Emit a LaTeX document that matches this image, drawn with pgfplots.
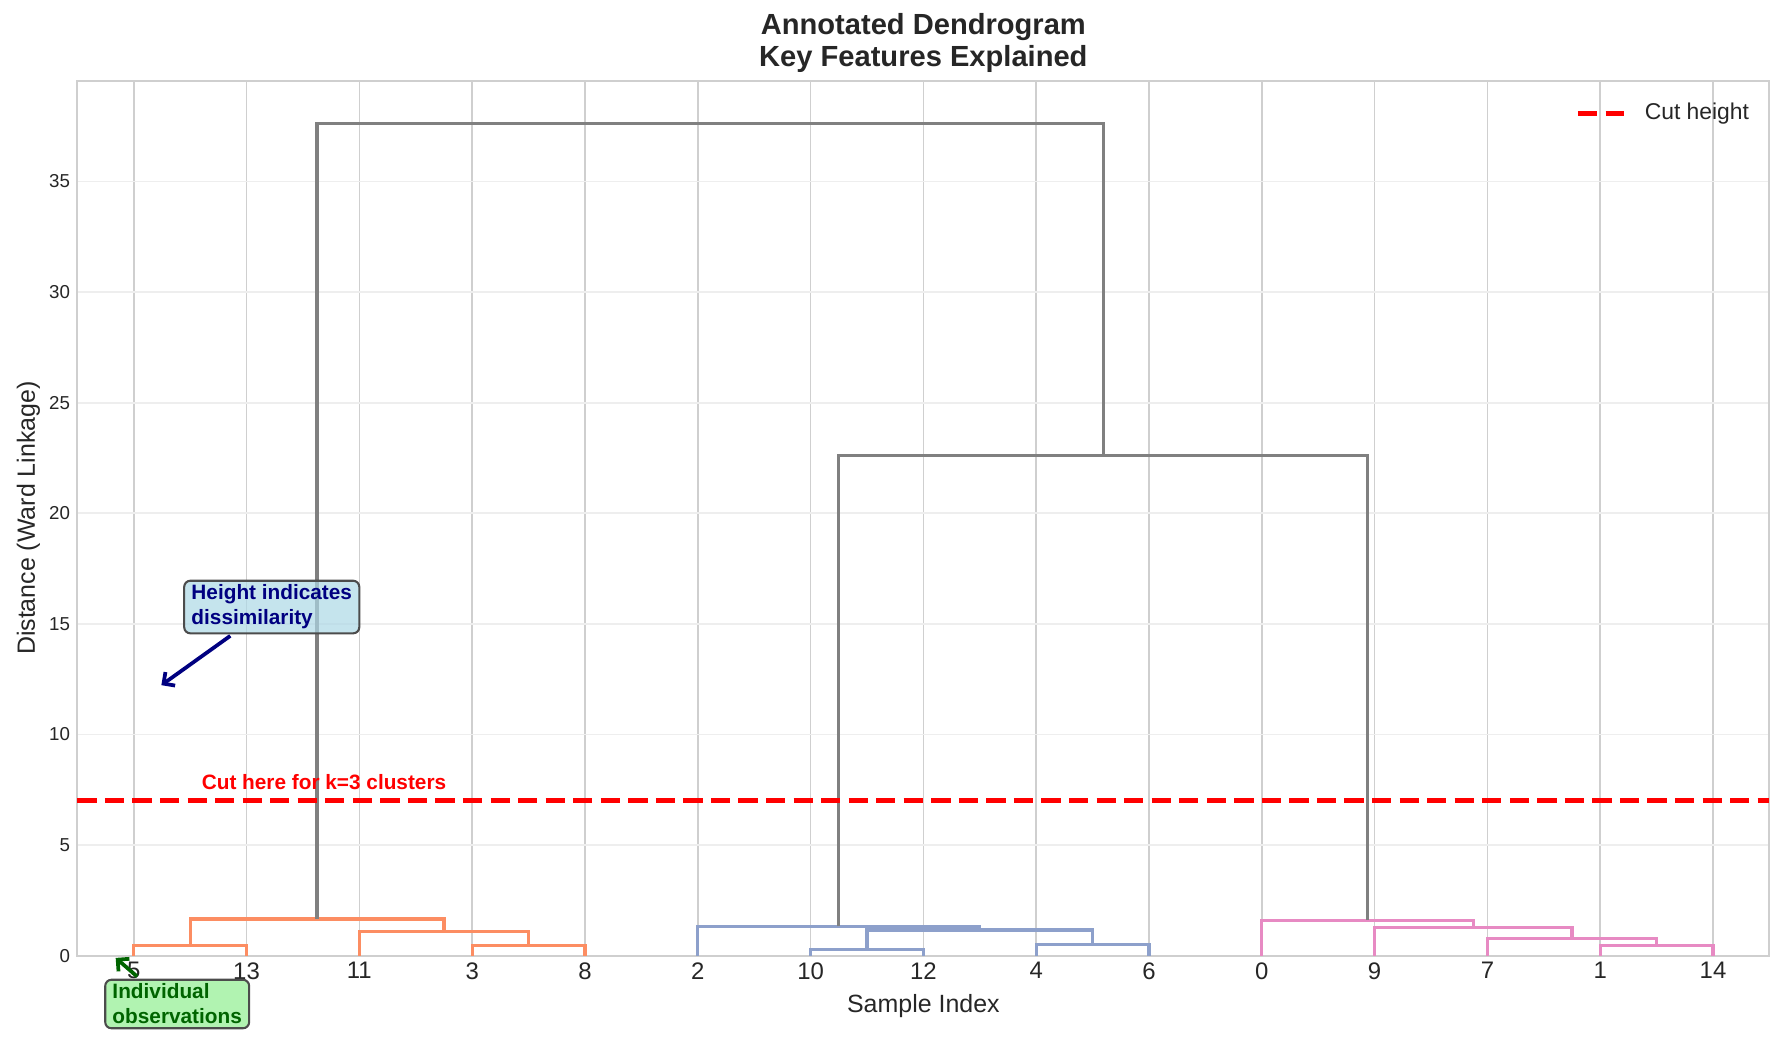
\documentclass[border=0pt]{standalone}
\usepackage{pgfplots}
\pgfplotsset{compat=1.18}
\usepackage{fontspec}
\setmainfont{Liberation Sans}
\usetikzlibrary{arrows.meta}
\definecolor{txt}{HTML}{262626}
\definecolor{orng}{HTML}{FC8D62}
\definecolor{blu}{HTML}{8DA0CB}
\definecolor{pnk}{HTML}{E78AC3}
\definecolor{grylink}{HTML}{808080}
\definecolor{gridv}{HTML}{CFCFCF}
\definecolor{gridh}{HTML}{EEEEEE}
\definecolor{boxblue}{HTML}{ADD8E6}
\definecolor{boxgreen}{HTML}{90EE90}
\definecolor{navyc}{HTML}{000080}
\definecolor{dgreen}{HTML}{006400}

\begin{document}
\begin{tikzpicture}
\begin{axis}[
  at={(0,0)}, anchor=south west,
  width=813.9pt, height=420.9pt, scale only axis,
  xmin=0, xmax=150, ymin=0, ymax=39.56,
  clip=false,
  xtick={5,15,...,145},
  xticklabels={5,13,11,3,8,2,10,12,4,6,0,9,7,1,14},
  ytick={0,5,...,35},
  major tick length=0pt,
  xmajorgrids, ymajorgrids,
  x grid style={draw=gridv, line width=0.8pt},
  y grid style={draw=gridh, line width=0.8pt},
  axis line style={draw=gridv, line width=1pt},
  /pgf/number format/assume math mode=true,
  tick label style={text=txt},
  xticklabel style={font=\fontsize{11.5}{13}\selectfont, yshift=0.3pt},
  yticklabel style={font=\fontsize{9}{11}\selectfont},
  xlabel={Sample Index},
  xlabel style={font=\fontsize{12}{14}\selectfont, text=txt, at={(axis description cs:0.5,0)}, anchor=base, yshift=-27.4pt},
  ylabel={Distance (Ward Linkage)},
  ylabel style={font=\fontsize{12}{14}\selectfont, text=txt, at={(axis description cs:0,0.5)}, anchor=base, yshift=20.4pt},
  title={Annotated Dendrogram\\Key Features Explained},
  title style={align=center, font=\bfseries\fontsize{14}{15.5}\selectfont, text=txt, at={(axis description cs:0.5,1)}, anchor=south, inner sep=0pt, yshift=-2.5pt},
  legend style={at={(axis description cs:1,1)}, anchor=north east, draw=none, fill=none,
    font=\fontsize{11}{13}\selectfont, text=txt, xshift=-9.6pt, yshift=-10.7pt,
    inner sep=0pt, nodes={inner sep=0pt}, column sep=8.9pt},
  legend image code/.code={\draw[#1] (0pt,0pt) -- (22pt,0pt);},
]
% orange cluster
\addplot[orng, line width=1.5pt, forget plot] coordinates {(5,0) (5,0.45) (15,0.45) (15,0)};
\addplot[orng, line width=1.5pt, forget plot] coordinates {(35,0) (35,0.45) (45,0.45) (45,0)};
\addplot[orng, line width=1.5pt, forget plot] coordinates {(25,0) (25,1.09) (40,1.09) (40,0.45)};
\addplot[orng, line width=1.5pt, forget plot] coordinates {(10,0.45) (10,1.66) (32.5,1.66) (32.5,1.09)};
% blue cluster
\addplot[blu, line width=1.5pt, forget plot] coordinates {(65,0) (65,0.27) (75,0.27) (75,0)};
\addplot[blu, line width=1.5pt, forget plot] coordinates {(85,0) (85,0.5) (95,0.5) (95,0)};
\addplot[blu, line width=1.5pt, forget plot] coordinates {(70,0.27) (70,1.16) (90,1.16) (90,0.5)};
\addplot[blu, line width=1.5pt, forget plot] coordinates {(55,0) (55,1.33) (80,1.33) (80,1.16)};
% pink cluster
\addplot[pnk, line width=1.5pt, forget plot] coordinates {(135,0) (135,0.47) (145,0.47) (145,0)};
\addplot[pnk, line width=1.5pt, forget plot] coordinates {(125,0) (125,0.79) (140,0.79) (140,0.47)};
\addplot[pnk, line width=1.5pt, forget plot] coordinates {(115,0) (115,1.28) (132.5,1.28) (132.5,0.79)};
\addplot[pnk, line width=1.5pt, forget plot] coordinates {(105,0) (105,1.61) (123.75,1.61) (123.75,1.28)};
% upper links
\addplot[grylink, line width=1.5pt, forget plot] coordinates {(67.5,1.33) (67.5,22.6) (114.375,22.6) (114.375,1.61)};
\addplot[grylink, line width=1.5pt, forget plot] coordinates {(21.25,1.66) (21.25,37.64) (90.9375,37.64) (90.9375,22.6)};
% cut line
\addplot[red, line width=2.5pt, dash pattern=on 9.25pt off 4pt] coordinates {(0,7) (150,7)};
\addlegendentry{Cut height}

\node[anchor=base west, inner sep=0pt, text=red, font=\bfseries\fontsize{10}{12}\selectfont] at (axis cs:11,7.5) {Cut here for k=3 clusters};

\draw[navyc, line width=1.8pt, -{Straight Barb[length=4pt,width=8pt]}] (axis cs:13.56,14.46) -- (axis cs:7.45,12.23);
\node[draw=black!70, line width=1pt, fill=boxblue, fill opacity=0.7, text opacity=1, rounded corners=3pt,
  anchor=north west, inner xsep=3.5pt, inner ysep=2pt, align=left, text=navyc,
  font=\bfseries\fontsize{10}{12}\selectfont] at (axis cs:9.38,17.0) {Height indicates\\dissimilarity};

\draw[dgreen, line width=1.8pt, -{Straight Barb[length=4pt,width=8pt]}] (axis cs:5.3,-0.94) -- (axis cs:3.4,-0.1);
\node[draw=black!70, line width=1pt, fill=boxgreen, fill opacity=0.7, text opacity=1, rounded corners=3pt,
  anchor=north west, inner xsep=3.5pt, inner ysep=2pt, align=left, text=dgreen,
  font=\bfseries\fontsize{10}{12}\selectfont] at (axis cs:2.38,-1.04) {Individual\\observations};
\end{axis}
\pgfresetboundingbox
\useasboundingbox (-37.2pt,-41.0pt) rectangle (821.4pt,459.7pt);
\end{tikzpicture}
\end{document}
